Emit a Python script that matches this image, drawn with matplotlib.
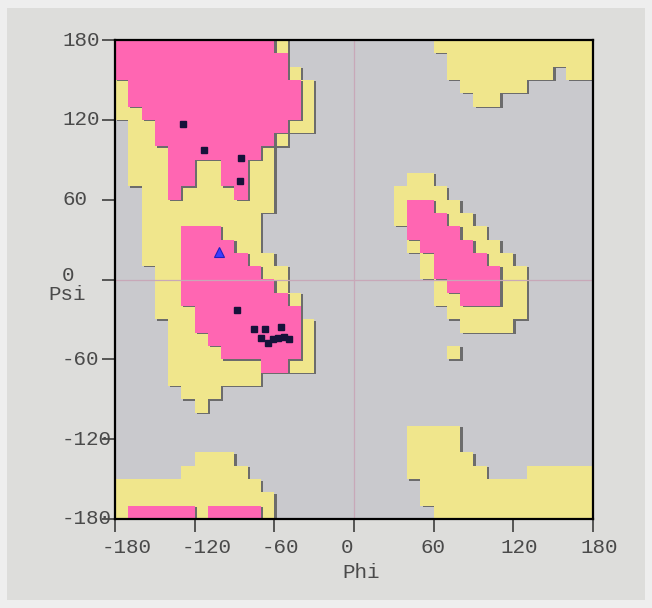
import numpy as np
import matplotlib.pyplot as plt
from matplotlib.colors import ListedColormap
from matplotlib.patches import Rectangle
from matplotlib import transforms

plt.rcParams['font.family'] = ['Liberation Mono', 'DejaVu Sans Mono']

# 10 degree cells: first row is psi 170..180, first column is phi -180..-170
# '.' = disallowed, 'y' = allowed, 'p' = favoured
region_rows = [
    "pppppp pppppp y..... ...... yyyyyy yyyyyy",
    "pppppp pppppp p..... ...... .yyyyy yyyyyy",
    "pppppp pppppp py.... ...... .yyyyy yyy.yy",
    "yppppp pppppp ppy... ...... ..yyyy y.....",
    "yppppp pppppp ppy... ...... ...yy. ......",
    "yypppp pppppp ppy... ...... ...... ......",
    ".yyppp pppppp pyy... ...... ...... ......",
    ".yyppp pppppp y..... ...... ...... ......",
    ".yyypp pppppy ...... ...... ...... ......",
    ".yyypp yyppyy ...... ...... ...... ......",
    ".yyypp yyppyy ...... ....yy ...... ......",
    "..yypy yyypyy ...... ...yyy y..... ......",
    "..yyyy yyyyyy ...... ...ypp yy.... ......",
    "..yyyy yyyyy. ...... ...ypp pyy... ......",
    "..yyyp ppyyy. ...... ....pp ppyy.. ......",
    "..yyyp pppyy. ...... ....yp pppyy. ......",
    "..yyyp ppppyy ...... .....y ppppyy ......",
    "...yyp pppppy y..... .....y pppppy y.....",
    "...yyp pppppp y..... ...... yppppy y.....",
    "...yyp pppppp py.... ...... yypppy y.....",
    "...yyy pppppp pp.... ...... .yyyyy y.....",
    "....yy pppppp ppy... ...... ..yyyy ......",
    "....yy yppppp ppy... ...... ...... ......",
    "....yy yypppp ppy... ...... .y.... ......",
    "....yy yyyyyp pyy... ...... ...... ......",
    "....yy yyyyy. ...... ...... ...... ......",
    ".....y yy.... ...... ...... ...... ......",
    "...... y..... ...... ...... ...... ......",
    "...... ...... ...... ...... ...... ......",
    "...... ...... ...... ....yy yy.... ......",
    "...... ...... ...... ....yy yy.... ......",
    "...... yyy... ...... ....yy yyy... ......",
    ".....y yyyy.. ...... ....yy yyyy.. .yyyyy",
    "yyyyyy yyyyy. ...... .....y yyyyyy yyyyyy",
    "yyyyyy yyyyyy ...... .....y yyyyyy yyyyyy",
    "yppppp yppppy ...... ...... yyyyyy yyyyyy",
]

# residues (phi, psi)
res_phi = [-129, -113, -85, -86, -88, -75, -67, -55, -70, -65, -61, -57, -53, -49]
res_psi = [117, 97, 91, 74, -23, -37, -37, -36, -44, -48, -45, -44, -43, -45]
gly_phi = [-102]
gly_psi = [21]

tick_vals = [-180, -120, -60, 0, 60, 120, 180]
tick_text = ['-180', '-120', '-60', '0', '60', '120', '180']

code = {'.': 0, 'y': 1, 'p': 2}
grid = np.array([[code[c] for c in row.replace(' ', '')] for row in region_rows])

fig = plt.figure(figsize=(6.52, 6.08), dpi=100, facecolor='#eeeeee')
fig.patches.append(Rectangle((7 / 652, 8 / 608), 638 / 652, 592 / 608,
                             transform=fig.transFigure, facecolor='#dddddb',
                             edgecolor='none', zorder=-10))

ax = fig.add_axes([115 / 652, 1 - 519 / 608, 478 / 652, 479 / 608])
ax.set_facecolor('#c9c9cd')

d = 1.2  # shadow offset in degrees
ext = (-180, 180, -180, 180)
ext_sh = (-180 + d, 180 + d, -180 - d, 180 - d)
shadow = ListedColormap(['#6c6c6c'])

allowed = np.ma.masked_where(grid < 1, np.ones_like(grid))
core = np.ma.masked_where(grid < 2, np.ones_like(grid))

ax.imshow(allowed, cmap=shadow, extent=ext_sh, interpolation='nearest', aspect='auto', zorder=1)
ax.imshow(allowed, cmap=ListedColormap(['#f0e68c']), extent=ext, interpolation='nearest', aspect='auto', zorder=2)
ax.imshow(core, cmap=shadow, extent=ext_sh, interpolation='nearest', aspect='auto', zorder=3)
ax.imshow(core, cmap=ListedColormap(['#ff66b2']), extent=ext, interpolation='nearest', aspect='auto', zorder=4)

ax.axhline(0, color='#c8a8b8', lw=0.9, zorder=5)
ax.axvline(0, color='#c8a8b8', lw=0.9, zorder=5)

ax.plot(res_phi, res_psi, 's', ms=5, color='#16123a', zorder=6)
ax.plot(gly_phi, gly_psi, '^', ms=7, color='#3c3cff', mec='#2020c0', mew=0.8, zorder=6)

ax.set_xlim(-180, 180)
ax.set_ylim(-180, 180)
ax.set_xticks(tick_vals)
ax.set_yticks(tick_vals)
ax.tick_params(direction='out', length=9.4, width=1.1, color='#303030',
               labelbottom=False, labelleft=False)
for s in ax.spines.values():
    s.set_linewidth(1.6)
    s.set_color('black')
    s.set_zorder(7)

lab_style = dict(fontsize=15, color='#4a4a4a')
xtrans = transforms.offset_copy(ax.get_xaxis_transform(), fig=fig, x=-13, y=-28.5, units='dots')
for v, t in zip(tick_vals, tick_text):
    ax.text(v, 0, t, transform=xtrans, ha='left', va='center', clip_on=False, **lab_style)
ytrans = ax.get_yaxis_transform()
for v, t in zip(tick_vals, tick_text):
    tr = transforms.offset_copy(ytrans, fig=fig, x=0, y=4 if v == 0 else 0, units='dots')
    ax.text(-53 / 478, v, t, transform=tr, ha='left', va='center',
            clip_on=False, **lab_style)

fig.text(48 / 652, 1 - 294 / 608, 'Psi', ha='left', va='center', **lab_style)
fig.text(342 / 652, 1 - 572 / 608, 'Phi', ha='left', va='center', **lab_style)

fig.savefig('out.png', dpi=100, facecolor=fig.get_facecolor())
